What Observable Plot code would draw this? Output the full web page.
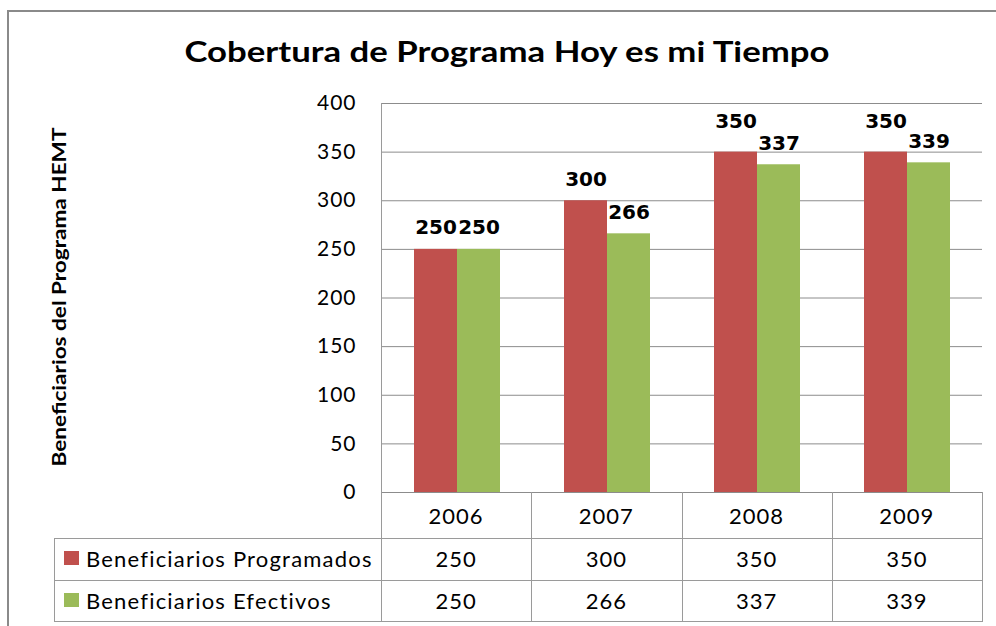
<!DOCTYPE html>
<html>
<head>
<meta charset="utf-8">
<script src="https://cdn.jsdelivr.net/npm/d3@7"></script>
<script src="https://cdn.jsdelivr.net/npm/@observablehq/plot@0.6"></script>
<style>
  html, body { margin: 0; padding: 0; background: #fff; }
  #wrap { position: relative; width: 996px; height: 626px; overflow: hidden; font-family: Lato, "Open Sans", sans-serif; color: #000; }
  #wrap > svg { position: absolute; left: 0; top: 0; }
  .abs { position: absolute; white-space: nowrap; }
  .hl { position: absolute; height: 1px; background: #9a9a9a; }
  .vl { position: absolute; width: 1px; background: #9a9a9a; }
</style>
</head>
<body>
<div id="wrap"></div>
<script>
// ---- data ----
const titleText = "Cobertura de Programa Hoy es mi Tiempo";
const yLabel = "Beneficiarios del Programa HEMT";
const years = ["2006", "2007", "2008", "2009"];
const seriesNames = ["Beneficiarios Programados", "Beneficiarios Efectivos"];
const seriesColors = ["#C0504D", "#9BBB59"];
const programados = [250, 300, 350, 350];
const efectivos = [250, 266, 337, 339];
const yTicks = [0, 50, 100, 150, 200, 250, 300, 350, 400];

const seriesValues = [programados, efectivos];
const rows = [];
seriesNames.forEach((s, si) => years.forEach((y, i) => rows.push({year: y, series: s, si, i, value: seriesValues[si][i]})));

// ---- layout ----
const W = 996, H = 626;
const mL = 381, mR = 14, mT = 103, mB = 134;
const nb = years.length;
const step = (W - mL - mR) / nb;
const half = 43; // one bar width in px
const pInner = 1 - (2 * half) / step;
const pxPerUnit = (H - mT - mB) / 400;
// raise a label when the neighbouring label of the group would nearly collide (like the source chart)
function labelY(d) {
  const other = seriesValues[1 - d.si][d.i];
  const diffPx = (d.value - other) * pxPerUnit;
  const raise = diffPx > 0 && diffPx < 16 ? 9 : 0;
  return d.value + raise / pxPerUnit;
}

const wrap = document.getElementById("wrap");

// outer frame (left + top border)
const frame = document.createElement("div");
frame.className = "abs";
Object.assign(frame.style, {left: "7px", top: "10px", width: "1000px", height: "700px", borderLeft: "2px solid #8a8a8a", borderTop: "2px solid #8a8a8a"});
wrap.appendChild(frame);

const labelStyle = {lineAnchor: "bottom", fontFamily: "DejaVu Sans", fontWeight: "bold", fontSize: 20, fill: "#000", dy: -15};

const plot = Plot.plot({
  width: W, height: H,
  marginLeft: mL, marginRight: mR, marginTop: mT, marginBottom: mB,
  style: {background: "transparent", overflow: "visible"},
  x: {type: "band", domain: years, paddingInner: pInner, paddingOuter: pInner / 2, axis: null},
  y: {domain: [0, 400], axis: null},
  marks: [
    Plot.gridY(yTicks, {stroke: "#8c8c8c", strokeOpacity: 1, strokeWidth: 1}),
    Plot.barY(rows.filter(d => d.si === 0), {x: "year", y: "value", fill: seriesColors[0], insetRight: half, insetLeft: 0}),
    Plot.barY(rows.filter(d => d.si === 1), {x: "year", y: "value", fill: seriesColors[1], insetLeft: half, insetRight: 0}),
    Plot.text(rows.filter(d => d.si === 0), {x: "year", y: labelY, text: d => String(d.value), dx: -half / 2, ...labelStyle}),
    Plot.text(rows.filter(d => d.si === 1), {x: "year", y: labelY, text: d => String(d.value), dx: half / 2, ...labelStyle}),
    Plot.axisY(yTicks, {anchor: "left", tickSize: 0, tickPadding: 25, fontSize: 21, fontFamily: "Lato", fill: "#000", label: null, tickFormat: d => String(d)})
  ]
});
wrap.appendChild(plot);
plot.querySelectorAll("text").forEach(t => { if (t.closest("[aria-label='y-axis tick label']")) t.setAttribute("letter-spacing", "1"); });

function addText(txt, css) {
  const el = document.createElement("div");
  el.className = "abs";
  el.textContent = txt;
  Object.assign(el.style, css);
  wrap.appendChild(el);
  return el;
}

// title
const title = addText(titleText, {left: "507px", top: "31px", fontSize: "28px", fontWeight: "bold", lineHeight: "40px"});
{
  const w = title.getBoundingClientRect().width;
  title.style.transformOrigin = "50% 50%";
  title.style.transform = `translateX(-50%) scaleX(${645 / w})`;
}

// y label
const yl = addText(yLabel, {left: "59px", top: "297px", fontSize: "18px", fontWeight: "bold", lineHeight: "22px"});
{
  const w = yl.getBoundingClientRect().width;
  yl.style.transformOrigin = "0 0";
  yl.style.transform = `rotate(-90deg) scaleX(${339 / w}) translate(-50%, -50%)`;
}

// ---- data table below the chart ----
const y0 = H - mB;
const rowEdges = [y0, 538, 580, 621];
const tableLeft = 54;
const colX = i => mL + i * step;
const right = W - mR;

function hline(x1, x2, y) { const d = document.createElement("div"); d.className = "hl"; Object.assign(d.style, {left: x1 + "px", width: (x2 - x1 + 1) + "px", top: y + "px"}); wrap.appendChild(d); }
function vline(x, y1, y2) { const d = document.createElement("div"); d.className = "vl"; Object.assign(d.style, {left: x + "px", top: y1 + "px", height: (y2 - y1 + 1) + "px"}); wrap.appendChild(d); }

vline(mL, mT, rowEdges[3]);
for (let i = 1; i <= nb; i++) vline(Math.round(colX(i)), y0, rowEdges[3]);
vline(tableLeft, rowEdges[1], rowEdges[3]);
hline(tableLeft, right, rowEdges[1]);
hline(tableLeft, right, rowEdges[2]);
hline(tableLeft, right, rowEdges[3]);

function cellText(txt, x1, x2, yTop, yBot) {
  addText(txt, {left: x1 + "px", width: (x2 - x1) + "px", top: yTop + "px", height: (yBot - yTop) + "px", lineHeight: (yBot - yTop) + "px", textAlign: "center", fontSize: "22px", letterSpacing: "1px"});
}
years.forEach((y, i) => cellText(y, colX(i), colX(i + 1), rowEdges[0] + 2, rowEdges[1]));
seriesNames.forEach((s, si) => {
  const yt = rowEdges[si + 1], yb = rowEdges[si + 2];
  const sq = document.createElement("div");
  sq.className = "abs";
  Object.assign(sq.style, {left: "64px", top: ((yt + yb) / 2 - 8) + "px", width: "15px", height: "14px", background: seriesColors[si]});
  wrap.appendChild(sq);
  addText(s, {left: "86px", top: yt + "px", height: (yb - yt) + "px", lineHeight: (yb - yt) + "px", fontSize: "22px", letterSpacing: "1.2px"});
  seriesValues[si].forEach((v, i) => cellText(String(v), colX(i), colX(i + 1), yt, yb));
});
</script>
</body>
</html>
